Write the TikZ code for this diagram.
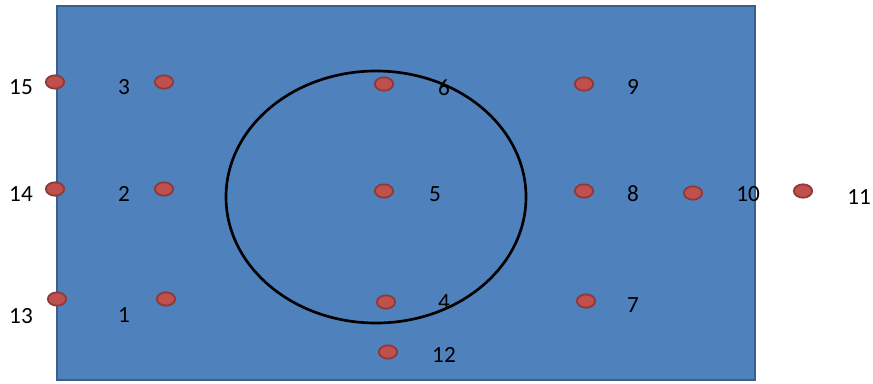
\documentclass[tikz,border=0pt]{standalone}
\usepackage{fontspec}
\setmainfont{Carlito}
\usetikzlibrary{shapes.geometric}
\definecolor{boxfill}{HTML}{4F81BD}
\definecolor{boxedge}{HTML}{3A5F8E}
\definecolor{dotfill}{HTML}{C0504D}
\definecolor{dotedge}{HTML}{8E3A38}
\tikzset{
  dot/.style={ellipse, draw=dotedge, fill=dotfill, line width=1.3pt,
    minimum width=13pt, minimum height=9.5pt, inner sep=0pt},
  num/.style={inner sep=0pt, font=\fontsize{16.5}{19}\selectfont}
}
\begin{document}
\begin{tikzpicture}[x=0.025cm, y=-0.025cm]
\useasboundingbox (0,0) rectangle (873,383);
\draw[boxedge, fill=boxfill, line width=2pt] (57,6) rectangle (755,380);
\draw[line width=1.9pt] (376,197) ellipse [x radius=150, y radius=126];
% points and their numbers
\foreach \n/\px/\py/\lx/\ly in {
  1/166/299/124/315, 2/164/189/124/194, 3/164/82/124/87,
  4/386/302/444/302, 5/384/191/435/194, 6/384/84/444/88,
  7/586/301/633/305, 8/584/191/633/194, 9/584/84/633/87,
  10/693/193/748/194, 11/803/191/859/197, 12/388/352/444/355,
  13/57/299/21/316, 14/55/189/21/194, 15/55/82/21/87}
{
  \node[dot] (p\n) at (\px,\py) {};
  \node[num] (n\n) at (\lx,\ly) {\n};
}
\end{tikzpicture}
\end{document}
